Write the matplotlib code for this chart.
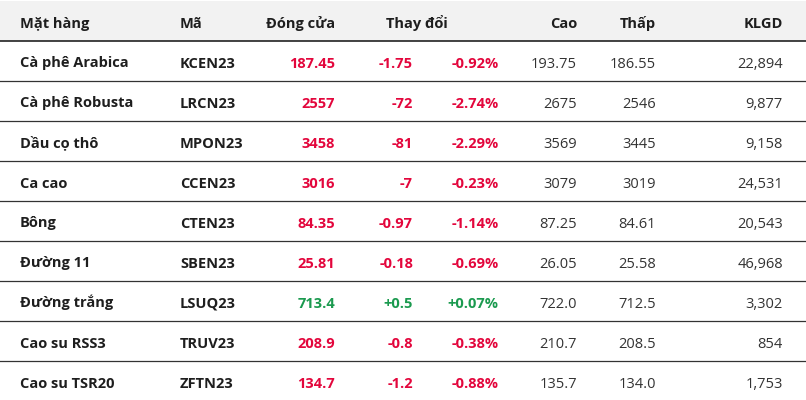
import matplotlib
matplotlib.use("Agg")
import matplotlib.pyplot as plt

names = ["Cà phê Arabica", "Cà phê Robusta", "Dầu cọ thô", "Ca cao", "Bông",
         "Đường 11", "Đường trắng", "Cao su RSS3", "Cao su TSR20"]
codes = ["KCEN23", "LRCN23", "MPON23", "CCEN23", "CTEN23", "SBEN23", "LSUQ23",
         "TRUV23", "ZFTN23"]
close = ["187.45", "2557", "3458", "3016", "84.35", "25.81", "713.4", "208.9", "134.7"]
change = ["-1.75", "-72", "-81", "-7", "-0.97", "-0.18", "+0.5", "-0.8", "-1.2"]
pct = ["-0.92%", "-2.74%", "-2.29%", "-0.23%", "-1.14%", "-0.69%", "+0.07%",
       "-0.38%", "-0.88%"]
high = ["193.75", "2675", "3569", "3079", "87.25", "26.05", "722.0", "210.7", "135.7"]
low = ["186.55", "2546", "3445", "3019", "84.61", "25.58", "712.5", "208.5", "134.0"]
vol = ["22,894", "9,877", "9,158", "24,531", "20,543", "46,968", "3,302", "854", "1,753"]
headers = ["Mặt hàng", "Mã", "Đóng cửa", "Thay đổi", "Cao", "Thấp", "KLGD"]

W, H = 806, 400
fig = plt.figure(figsize=(W / 100, H / 100), dpi=100)
ax = fig.add_axes([0, 0, 1, 1])
ax.set_xlim(0, W)
ax.set_ylim(H, 0)
ax.axis("off")

FONT = "Open Sans"
FS = 10.5
RED = "#e3063c"
GREEN = "#1b9a4f"
DARK = "#1e1e1e"
TXT = "#333333"


def put(x, y, s, ha, bold=True, color=DARK):
    ax.text(x, y, s, ha=ha, va="baseline", fontsize=FS,
            fontweight="bold" if bold else "normal", family=FONT, color=color)


# header
ax.add_patch(plt.Rectangle((0, 1), W, 40, facecolor="#f2f2f2", edgecolor="none"))
ax.plot([0, W], [41, 41], color="#222222", lw=1.2)
hy = 28.3
put(20, hy, headers[0], "left")
put(180, hy, headers[1], "left")
put(335, hy, headers[2], "right")
put(386, hy, headers[3], "left")
put(577, hy, headers[4], "right")
put(656, hy, headers[5], "right")
put(783, hy, headers[6], "right")

for i in range(len(names)):
    y = 67.5 + 40 * i
    col = GREEN if change[i].startswith("+") else RED
    put(20, y, names[i], "left")
    put(180, y, codes[i], "left")
    put(335, y, close[i], "right", color=col)
    put(413, y, change[i], "right", color=col)
    put(498.5, y, pct[i], "right", color=col)
    put(577, y, high[i], "right", bold=False, color=TXT)
    put(656, y, low[i], "right", bold=False, color=TXT)
    put(783, y, vol[i], "right", bold=False, color=TXT)
    if i < len(names) - 1:
        ax.plot([0, W], [81 + 40 * i, 81 + 40 * i], color="#333333", lw=0.9)

fig.savefig("out.png", dpi=100)
